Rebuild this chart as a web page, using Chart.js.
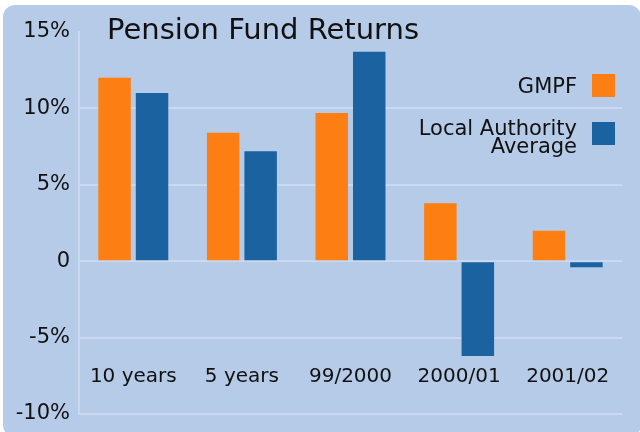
<!DOCTYPE html>
<html>
<head>
<meta charset="utf-8">
<script src="https://cdn.jsdelivr.net/npm/chart.js@4.4.1/dist/chart.umd.min.js"></script>
<style>
  html, body { margin: 0; padding: 0; background: #ffffff; }
  #wrap { width: 640px; height: 432px; }
</style>
</head>
<body>
<div id="wrap"><canvas id="c" width="640" height="432"></canvas></div>
<script>
const chartTitle = 'Pension Fund Returns';
const categories = ['10 years', '5 years', '99/2000', '2000/01', '2001/02'];
const seriesNames = [['GMPF'], ['Local Authority', 'Average']];
const gmpfValues = [12.0, 8.4, 9.7, 3.8, 2.0];
const localAuthorityValues = [11.0, 7.2, 13.7, -6.2, -0.4];
const yTickValues = [-10, -5, 0, 5, 10, 15];
const yTickLabels = ['-10%', '-5%', '0', '5%', '10%', '15%'];

const FONT = '"DejaVu Sans", sans-serif';
const TEXT = '#111111';
const GRID = '#c9d9ef';
const BG = '#b5cbe8';
const ORANGE = '#fd7e12';
const BLUE = '#1b62a1';

const backgroundPlugin = {
  id: 'panelBg',
  beforeDraw(chart) {
    const ctx = chart.ctx;
    ctx.save();
    ctx.fillStyle = '#ffffff';
    ctx.fillRect(0, 0, chart.width, chart.height);
    ctx.fillStyle = BG;
    ctx.beginPath();
    ctx.roundRect(3, 5, 638, 432, 12);
    ctx.fill();
    ctx.restore();
  }
};

const titleLegendPlugin = {
  id: 'titleLegend',
  afterDraw(chart) {
    const ctx = chart.ctx;
    ctx.save();
    ctx.fillStyle = TEXT;
    ctx.textBaseline = 'alphabetic';
    ctx.textAlign = 'left';
    ctx.font = '29px ' + FONT;
    ctx.fillText(chartTitle, 107, 39);

    const boxes = [{top: 74, base: 93}, {top: 122, base: 135}];
    ctx.font = '21px ' + FONT;
    ctx.textAlign = 'right';
    chart.data.datasets.forEach((ds, i) => {
      const b = boxes[i];
      ctx.fillStyle = ds.backgroundColor;
      ctx.fillRect(592, b.top, 23, 23);
      ctx.fillStyle = TEXT;
      const lines = Array.isArray(ds.label) ? ds.label : [ds.label];
      lines.forEach((ln, j) => ctx.fillText(ln, 577, b.base + j * 18));
    });
    ctx.restore();
  }
};

new Chart(document.getElementById('c'), {
  type: 'bar',
  data: {
    labels: categories,
    datasets: [
      { label: seriesNames[0], data: gmpfValues, backgroundColor: ORANGE, borderWidth: 0 },
      { label: seriesNames[1], data: localAuthorityValues, backgroundColor: BLUE, borderWidth: 0 }
    ]
  },
  options: {
    responsive: false,
    animation: false,
    devicePixelRatio: 1,
    categoryPercentage: 0.69,
    barPercentage: 0.867,
    layout: { padding: { top: 32, right: 18, bottom: 18, left: 0 } },
    plugins: {
      legend: { display: false },
      title: { display: false },
      tooltip: { enabled: false }
    },
    scales: {
      x: {
        type: 'category',
        position: { y: -6.5 },
        grid: { display: false, drawTicks: false },
        border: { display: false },
        afterFit(scale) { scale.paddingLeft = 0; scale.paddingRight = 0; scale.paddingTop = 0; scale.paddingBottom = 0; },
        ticks: { color: TEXT, font: { family: FONT, size: 20 }, padding: 4, maxRotation: 0 }
      },
      y: {
        min: -10,
        max: 15,
        afterBuildTicks(scale) {
          scale.ticks = yTickValues.map(v => ({ value: v }));
        },
        afterFit(scale) { scale.width = 79; scale.paddingTop = 0; scale.paddingBottom = 0; },
        ticks: {
          color: TEXT,
          font: { family: FONT, size: 21 },
          padding: 9,
          callback(value) {
            const i = yTickValues.indexOf(value);
            return i >= 0 ? yTickLabels[i] : '';
          }
        },
        grid: {
          drawTicks: false,
          lineWidth: 2,
          color(ctx) { return ctx.tick && ctx.tick.value === 15 ? 'rgba(0,0,0,0)' : GRID; }
        },
        border: { display: true, color: GRID, width: 2 }
      }
    }
  },
  plugins: [backgroundPlugin, titleLegendPlugin]
});
</script>
</body>
</html>
